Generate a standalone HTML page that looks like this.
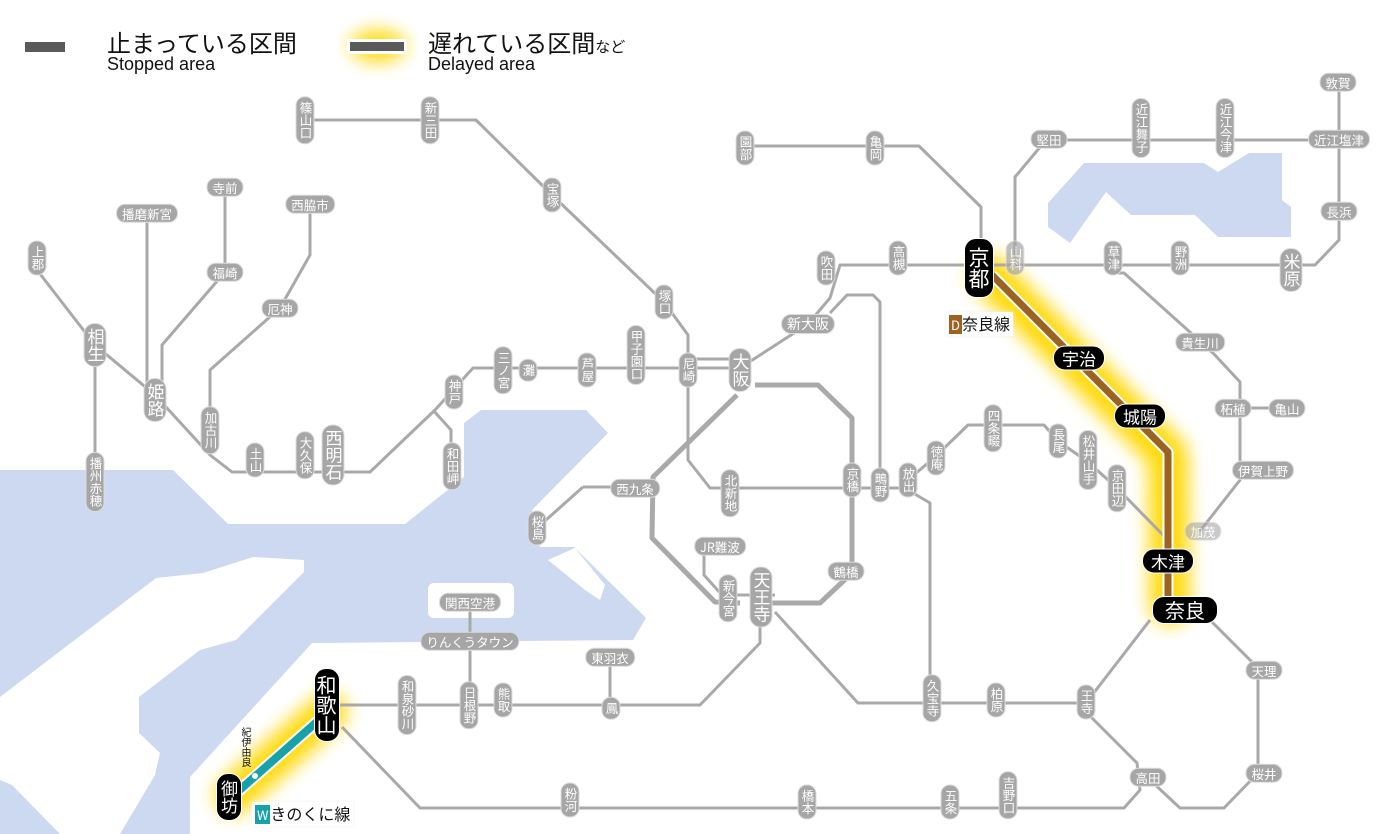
<!DOCTYPE html>
<html><head><meta charset="utf-8">
<style>
html,body{margin:0;padding:0;background:#fff;}
#w{position:relative;width:1400px;height:834px;overflow:hidden;font-family:"Liberation Sans","Noto Sans CJK JP",sans-serif;}
svg{position:absolute;left:0;top:0;}
.s{position:absolute;transform:translate(-50%,-50%);background:#a6a6a6;color:#fff;font-size:12.5px;line-height:13.5px;border:1.5px solid #dcdcdc;white-space:nowrap;font-family:"Noto Sans CJK JP",sans-serif;}
.v{writing-mode:vertical-rl;padding:4px 1px;border-radius:9px;width:15px;text-align:center;}
.h{padding:2px 5px 1px;border-radius:9px;}
.L{font-size:17px;line-height:18px;width:19px;border-radius:11px;}
.b{background:#000;border-color:#fff;font-size:17px;line-height:19px;}
.bv{writing-mode:vertical-rl;padding:6px 2px;border-radius:12px;width:20px;text-align:center;}
.bh{padding:2px 8px;border-radius:12px;}
.t{position:absolute;white-space:nowrap;}
</style></head><body><div id="w">
<svg width="1400" height="834" viewBox="0 0 1400 834">
<defs>
<filter id="gl" x="-50%" y="-50%" width="200%" height="200%"><feGaussianBlur stdDeviation="9"/></filter>
</defs>
<g fill="#cdd9f1">
<polygon points="0,470 173,470 228,524 405,524 464,477 464,423 481,410 586,410 608,433 532,510 540,547 574,547 646,618 633,640 312,643 190,777 190,834 0,834"/>
<polygon points="1048,203 1084,163 1204,163 1218,172 1249,153 1282,153 1282,200 1291,207 1291,237 1218,237 1195,215 1131,215 1106,192 1070,243 1048,227"/>
</g>
<g fill="#fff">
<polygon points="0,697 156,578 203,573 253,557 304,560 304,572 236,640 200,650 139,697 139,733 160,753 155,775 120,834 60,834 12,785 0,780"/>
<rect x="428" y="583" width="86" height="35" rx="6"/>
<polygon points="548,560 575,548 605,585 600,600 585,590"/>
<polygon points="560,530 590,515 580,545"/>
</g>
<g filter="url(#gl)" stroke="#ffd800" stroke-linecap="round" stroke-linejoin="round" fill="none" opacity="0.95">
<polyline points="990,275 1168,455 1170,605" stroke-width="40"/>
<line x1="328" y1="712" x2="234" y2="795" stroke-width="38"/>
<ellipse cx="378" cy="46" rx="28" ry="16" stroke="none" fill="#ffd800"/>
</g>
<g fill="none" stroke="#a9a9a9" stroke-width="3" stroke-linejoin="round">
<polyline points="305,120 476,120 552,195 664,302 688,335 688,460 710,488 908,488"/>
<polyline points="37,270 95,345"/>
<polyline points="95,345 155,395 210,455 232,472 370,472 435,410 473,368 740,368"/>
<polyline points="688,359 740,359"/>
<polyline points="433,410 451,430 451,465"/>
<polyline points="147,213 147,395"/>
<polyline points="225,187 225,272 162,345 162,395"/>
<polyline points="310,204 310,255 280,308 210,370 210,430"/>
<polyline points="95,345 95,480"/>
<polyline points="583,487 537,528"/>
<polyline points="583,487 640,487"/>
<polyline points="704,547 704,575 722,595 775,595"/>
<polyline points="740,368 808,324 830,298 840,265 1315,265 1339,240 1339,82"/>
<polyline points="830,313 847,295 873,295 880,302 880,485"/>
<polyline points="908,480 935,457 968,425 1044,425 1058,441 1088,462 1117,488 1163,535"/>
<polyline points="908,490 930,503 930,703"/>
<polyline points="775,612 858,703 1086,703 1150,620"/>
<polyline points="760,610 760,643 700,705 340,705"/>
<polyline points="1210,620 1258,668 1258,773 1224,808 1180,808 1150,780"/>
<polyline points="1086,712 1137,763 1140,790 1124,808 420,808 342,727"/>
<polyline points="610,657 610,705"/>
<polyline points="470,602 470,705"/>
<polyline points="745,146 919,146 981,207 981,240"/>
<polyline points="1015,258 1015,177 1046,140 1339,140"/>
<polyline points="1117,273 1124,273 1191,333 1200,342 1213,353 1240,382 1240,480 1200,531"/>
<polyline points="1240,408 1287,408"/>
</g>
<g fill="none" stroke="#a9a9a9" stroke-width="5" stroke-linejoin="round">
<polyline points="755,385 818,385 852,418 852,573 820,603 767,603"/>
<polyline points="737,395 653,477 652,538 715,602 740,603"/>
</g>
<g fill="none" stroke-linejoin="round">
<polyline points="992,275 1168,452 1168,605" stroke="#fff" stroke-width="11"/>
<polyline points="992,275 1168,452 1168,605" stroke="#9c6221" stroke-width="7"/>
<line x1="328" y1="712" x2="234" y2="795" stroke="#fff" stroke-width="12"/>
<line x1="328" y1="712" x2="234" y2="795" stroke="#16a2a8" stroke-width="8"/>
</g>
<circle cx="255" cy="776" r="3" fill="#fff"/>
<rect x="25" y="42" width="40" height="10" fill="#5a5a5a"/>
<rect x="347" y="39" width="60" height="15" fill="#fff"/>
<rect x="350" y="42" width="54" height="9" fill="#5a5a5a"/>
</svg>
<div class="t" style="left:107px;top:24px;font-size:24px;color:#111;font-family:'Noto Sans CJK JP',sans-serif;">止まっている区間</div>
<div class="t" style="left:107px;top:54px;font-size:18px;color:#111;">Stopped area</div>
<div class="t" style="left:428px;top:24px;font-size:24px;color:#111;font-family:'Noto Sans CJK JP',sans-serif;">遅れている区間<span style="font-size:15px">など</span></div>
<div class="t" style="left:428px;top:54px;font-size:18px;color:#111;">Delayed area</div>

<div class="s v" style="left:305px;top:120px">篠山口</div>
<div class="s v" style="left:430px;top:120px">新三田</div>
<div class="s v" style="left:552px;top:195px">宝塚</div>
<div class="s v" style="left:664px;top:302px">塚口</div>
<div class="s v" style="left:37px;top:258px">上郡</div>
<div class="s v L" style="left:95px;top:345px">相生</div>
<div class="s v L" style="left:155px;top:400px">姫路</div>
<div class="s v" style="left:210px;top:430px">加古川</div>
<div class="s v" style="left:255px;top:460px">土山</div>
<div class="s v" style="left:305px;top:455px">大久保</div>
<div class="s v L" style="left:333px;top:455px">西明石</div>
<div class="s v" style="left:454px;top:392px">神戸</div>
<div class="s v" style="left:452px;top:466px">和田岬</div>
<div class="s v" style="left:503px;top:370px">三ノ宮</div>
<div class="s v" style="left:528px;top:370px">灘</div>
<div class="s v" style="left:587px;top:370px">芦屋</div>
<div class="s v" style="left:636px;top:355px">甲子園口</div>
<div class="s v" style="left:688px;top:370px">尼崎</div>
<div class="s v L" style="left:740px;top:370px">大阪</div>
<div class="s v" style="left:95px;top:482px">播州赤穂</div>
<div class="s v" style="left:537px;top:528px">桜島</div>
<div class="s v" style="left:730px;top:493px">北新地</div>
<div class="s v" style="left:852px;top:480px">京橋</div>
<div class="s v" style="left:880px;top:485px">鴫野</div>
<div class="s v" style="left:908px;top:480px">放出</div>
<div class="s v" style="left:936px;top:458px">徳庵</div>
<div class="s v" style="left:993px;top:428px">四条畷</div>
<div class="s v" style="left:1058px;top:441px">長尾</div>
<div class="s v" style="left:1088px;top:460px">松井山手</div>
<div class="s v" style="left:1117px;top:488px">京田辺</div>
<div class="s v" style="left:728px;top:598px">新今宮</div>
<div class="s v L" style="left:761px;top:597px">天王寺</div>
<div class="s v" style="left:407px;top:705px">和泉砂川</div>
<div class="s v" style="left:469px;top:705px">日根野</div>
<div class="s v" style="left:503px;top:700px">熊取</div>
<div class="s v" style="left:611px;top:708px">鳳</div>
<div class="s v" style="left:570px;top:800px">粉河</div>
<div class="s v" style="left:807px;top:802px">橋本</div>
<div class="s v" style="left:950px;top:802px">五条</div>
<div class="s v" style="left:1008px;top:795px">吉野口</div>
<div class="s v" style="left:932px;top:698px">久宝寺</div>
<div class="s v" style="left:996px;top:700px">柏原</div>
<div class="s v" style="left:1086px;top:702px">王寺</div>
<div class="s v" style="left:745px;top:148px">園部</div>
<div class="s v" style="left:875px;top:148px">亀岡</div>
<div class="s v" style="left:898px;top:258px">高槻</div>
<div class="s v" style="left:826px;top:268px">吹田</div>
<div class="s v" style="left:1015px;top:258px;opacity:.7">山科</div>
<div class="s v" style="left:1113px;top:258px">草津</div>
<div class="s v" style="left:1180px;top:258px">野洲</div>
<div class="s v L" style="left:1291px;top:270px">米原</div>
<div class="s v" style="left:1141px;top:128px">近江舞子</div>
<div class="s v" style="left:1225px;top:128px">近江今津</div>

<div class="s h" style="left:225px;top:187px">寺前</div>
<div class="s h" style="left:147px;top:213px">播磨新宮</div>
<div class="s h" style="left:310px;top:204px">西脇市</div>
<div class="s h" style="left:225px;top:272px">福崎</div>
<div class="s h" style="left:280px;top:308px">厄神</div>
<div class="s h" style="left:635px;top:488px">西九条</div>
<div class="s h" style="left:720px;top:546px">JR難波</div>
<div class="s h" style="left:846px;top:571px">鶴橋</div>
<div class="s h L" style="left:808px;top:324px;width:auto;font-size:14px;line-height:15px">新大阪</div>
<div class="s h" style="left:470px;top:602px">関西空港</div>
<div class="s h" style="left:470px;top:641px">りんくうタウン</div>
<div class="s h" style="left:610px;top:657px">東羽衣</div>
<div class="s h" style="left:1049px;top:139px">堅田</div>
<div class="s h" style="left:1338px;top:82px">敦賀</div>
<div class="s h" style="left:1339px;top:139px">近江塩津</div>
<div class="s h" style="left:1339px;top:211px">長浜</div>
<div class="s h" style="left:1200px;top:342px">貴生川</div>
<div class="s h" style="left:1233px;top:408px">柘植</div>
<div class="s h" style="left:1287px;top:408px">亀山</div>
<div class="s h" style="left:1263px;top:470px">伊賀上野</div>
<div class="s h" style="left:1203px;top:531px;opacity:.6">加茂</div>
<div class="s h" style="left:1264px;top:670px">天理</div>
<div class="s h" style="left:1264px;top:773px">桜井</div>
<div class="s h" style="left:1148px;top:777px">高田</div>

<div class="s b bv" style="left:979px;top:268px;font-size:21px;line-height:24px;width:24px;padding:8px 2px">京都</div>
<div class="s b bv" style="left:327px;top:705px;font-size:20px;line-height:22px">和歌山</div>
<div class="s b bv" style="left:229px;top:797px">御坊</div>
<div class="s b bh" style="left:1079px;top:358px">宇治</div>
<div class="s b bh" style="left:1140px;top:416px">城陽</div>
<div class="s b bh" style="left:1168px;top:561px">木津</div>
<div class="s b bh" style="left:1185px;top:610px;font-size:20px;line-height:22px;padding:2px 12px">奈良</div>

<div class="t" style="left:241px;top:727px;font-size:10px;line-height:11px;writing-mode:vertical-rl;color:#111;font-family:'Noto Sans CJK JP',sans-serif;">紀伊由良</div>
<div class="t" style="left:946px;top:312px;background:#fff;padding:1px 3px;font-size:16px;line-height:20px;color:#111;font-family:'Noto Sans CJK JP',sans-serif;box-shadow:0 0 3px #eee;"><span style="background:#9c6221;color:#fff;padding:0 2px;font-size:13px;">D</span>奈良線</div>
<div class="t" style="left:252px;top:802px;background:#fff;padding:1px 3px;font-size:16px;line-height:20px;color:#111;font-family:'Noto Sans CJK JP',sans-serif;box-shadow:0 0 3px #eee;"><span style="background:#16a2a8;color:#fff;padding:0 2px;font-size:13px;">W</span>きのくに線</div>
</div></body></html>
